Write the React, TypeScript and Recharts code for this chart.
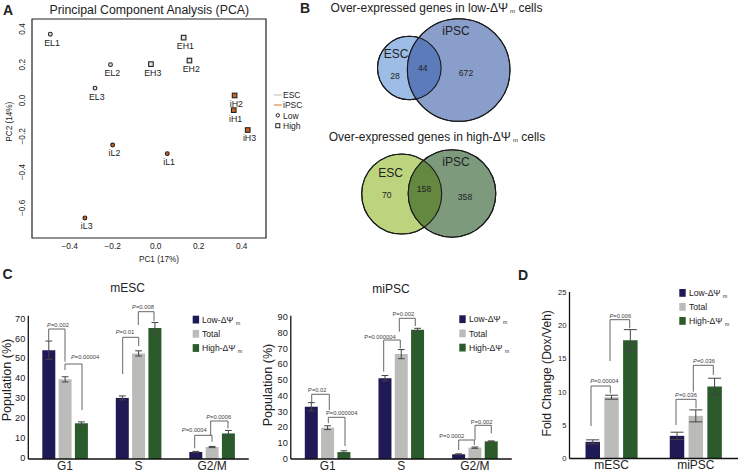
import { Bar, BarChart, ErrorBar, ReferenceArea, Scatter, ScatterChart, XAxis, YAxis } from 'recharts';

const FONT = '"Liberation Sans", Arial, sans-serif';
const INK = '#222';
const LOW = '#1f1a55';
const TOTAL = '#bbbbb9';
const HIGH = '#2b5b2b';

// panel A
const escLow = [
  { name: 'EL1', pc1: -0.49, pc2: 0.37 },
  { name: 'EL2', pc1: -0.21, pc2: 0.2 },
  { name: 'EL3', pc1: -0.282, pc2: 0.069 },
];
const escHigh = [
  { name: 'EH1', pc1: 0.13, pc2: 0.351 },
  { name: 'EH2', pc1: 0.157, pc2: 0.223 },
  { name: 'EH3', pc1: -0.022, pc2: 0.203 },
];
const ipscLow = [
  { name: 'iL1', pc1: 0.054, pc2: -0.297 },
  { name: 'iL2', pc1: -0.2, pc2: -0.249 },
  { name: 'iL3', pc1: -0.329, pc2: -0.656 },
];
const ipscHigh = [
  { name: 'iH1', pc1: 0.363, pc2: -0.054 },
  { name: 'iH2', pc1: 0.367, pc2: 0.028 },
  { name: 'iH3', pc1: 0.428, pc2: -0.165 },
];
const pc1Ticks = [-0.4, -0.2, 0, 0.2, 0.4];
const pc2Ticks = [-0.6, -0.4, -0.2, 0, 0.2, 0.4];

// panel B
const lowVennCounts = [28, 44, 672];
const highVennCounts = [70, 158, 358];

// panel C
const cycleCategories = ['G1', 'S', 'G2/M'];
const mescLow = [54.5, 30.6, 3.5];
const mescTotal = [39.9, 52.9, 6];
const mescHigh = [17.9, 65.7, 12.8];
const mescLowErr = [4.6, 1, 0.3];
const mescTotalErr = [1.3, 1.3, 0.3];
const mescHighErr = [0.7, 2.7, 1.5];
const mescTicks = [0, 10, 20, 30, 40, 50, 60, 70];

const mipscLow = [33.2, 51.3, 3];
const mipscTotal = [19.9, 66.6, 7.2];
const mipscHigh = [4.4, 82, 11.2];
const mipscLowErr = [2.6, 1.7, 0.3];
const mipscTotalErr = [1.2, 2.9, 0.4];
const mipscHighErr = [0.8, 1, 0.3];
const mipscTicks = [0, 10, 20, 30, 40, 50, 60, 70, 80, 90];

// panel D
const foldCategories = ['mESC', 'miPSC'];
const foldLow = [2.5, 3.4];
const foldTotal = [9.2, 6.4];
const foldHigh = [17.75, 10.8];
const foldLowErr = [0.3, 0.55];
const foldTotalErr = [0.3, 0.9];
const foldHighErr = [1.6, 1.25];
const foldTicks = [0, 5, 10, 15, 20, 25];

const buildRows = (cats: string[], low: number[], total: number[], high: number[], lowErr: number[], totalErr: number[], highErr: number[]) =>
  cats.map((cat, i) => ({
    cat,
    low: low[i],
    total: total[i],
    high: high[i],
    lowErr: lowErr[i],
    totalErr: totalErr[i],
    highErr: highErr[i],
  }));

// p value brackets: x1, x2, top, left drop, right drop, label x, label y
const brackets = [
  { p: '=0.002', it: true, x1: 48.7, x2: 65, top: 329, d1: 340.7, d2: 361.7, lx: 58, ly: 325 },
  { p: '=0.00004', it: true, x1: 65, x2: 82, top: 364, d1: 370, d2: 410, lx: 85, ly: 357.3 },
  { p: '=0.01', it: true, x1: 122.7, x2: 138.7, top: 337.3, d1: 374, d2: 346, lx: 125, ly: 331.7 },
  { p: '=0.008', it: true, x1: 138.3, x2: 154, top: 311.7, d1: 325, d2: 321, lx: 143, ly: 306.7 },
  { p: '=0.0004', it: true, x1: 194.7, x2: 212, top: 435.3, d1: 448.3, d2: 441.7, lx: 194.3, ly: 429.7 },
  { p: '=0.0006', it: true, x1: 210.7, x2: 228, top: 421, d1: 435.3, d2: 428.3, lx: 218.7, ly: 416.7 },
  { p: '=0.02', it: false, x1: 311.7, x2: 329.3, top: 394.3, d1: 403.3, d2: 410, lx: 317.3, ly: 389.7 },
  { p: '=0.000004', it: false, x1: 328.3, x2: 345, top: 417.3, d1: 423.3, d2: 446, lx: 341.7, ly: 412.7 },
  { p: '=0.000004', it: false, x1: 383.7, x2: 400.3, top: 340, d1: 371.7, d2: 348.3, lx: 380, ly: 336.7 },
  { p: '=0.002', it: false, x1: 399.3, x2: 415.3, top: 318.3, d1: 331.7, d2: 326, lx: 403.3, ly: 314.3 },
  { p: '=0.0002', it: false, x1: 458.7, x2: 474.3, top: 440, d1: 450, d2: 445, lx: 451.7, ly: 435.7 },
  { p: '=0.002', it: false, x1: 475, x2: 491.3, top: 425.3, d1: 440, d2: 433.3, lx: 481.7, ly: 421.7 },
  { p: '=0.00004', it: true, x1: 591, x2: 610.3, top: 386, d1: 426, d2: 393.3, lx: 604.3, ly: 381 },
  { p: '=0.006', it: true, x1: 610, x2: 629.7, top: 319.7, d1: 361, d2: 328.3, lx: 620.3, ly: 316 },
  { p: '=0.036', it: true, x1: 676, x2: 696, top: 399.3, d1: 425, d2: 408.3, lx: 686, ly: 395 },
  { p: '=0.036', it: true, x1: 693.3, x2: 713.3, top: 365.3, d1: 391.7, d2: 375, lx: 704, ly: 360.7 },
];

const minus = (v: number) => (v < 0 ? `\u2212${Math.abs(v).toFixed(1)}` : v.toFixed(1));

function RotatedTick({ x, y, payload }: any) {
  return (
    <text x={x} y={y} transform={`rotate(-90 ${x} ${y})`} textAnchor="middle" fontSize={8.3} fontFamily={FONT} fill={INK}>
      {minus(payload.value)}
    </text>
  );
}

function PointShape({ cx, cy, square, fill, payload }: any) {
  return (
    <g>
      {square ? (
        <rect x={cx - 2.3} y={cy - 2.3} width={4.6} height={4.6} fill={fill} stroke="#222" strokeWidth={1.1} />
      ) : (
        <circle cx={cx} cy={cy} r={1.9} fill={fill} stroke="#222" strokeWidth={1.1} />
      )}
      <text x={cx + 1.8} y={cy + 8.4} fontSize={8.8} fontFamily={FONT} fill={INK} textAnchor="middle" dominantBaseline="central">
        {payload.name}
      </text>
    </g>
  );
}

function PcaPanel() {
  const series = [
    { key: 'el', data: escLow, square: false, fill: '#e4e4e4' },
    { key: 'eh', data: escHigh, square: true, fill: '#e4e4e4' },
    { key: 'il', data: ipscLow, square: false, fill: '#c8641e' },
    { key: 'ih', data: ipscHigh, square: true, fill: '#c8641e' },
  ];
  return (
    <div style={{ position: 'absolute', left: 0, top: 0 }}>
      <ScatterChart width={290} height={265} margin={{ top: 19, right: 24, bottom: 0, left: 0 }}>
        <XAxis
          type="number"
          dataKey="pc1"
          domain={[-0.575, 0.513]}
          ticks={pc1Ticks}
          tickFormatter={minus}
          height={27}
          tickLine={false}
          tickSize={0}
          tickMargin={5}
          axisLine={false}
          tick={{ fontSize: 8.3, fontFamily: FONT, fill: INK }}
        />
        <YAxis
          type="number"
          dataKey="pc2"
          domain={[-0.768, 0.455]}
          ticks={pc2Ticks}
          width={32}
          tickLine={false}
          tickSize={0}
          tickMargin={7}
          axisLine={false}
          tick={<RotatedTick />}
        />
        <ReferenceArea x1={-0.575} x2={0.513} y1={-0.768} y2={0.455} fill="none" stroke="#222" strokeWidth={1.2} />
        {series.map((s) => (
          <Scatter
            key={s.key}
            data={s.data}
            isAnimationActive={false}
            shape={(p: any) => <PointShape {...p} square={s.square} fill={s.fill} />}
          />
        ))}
      </ScatterChart>
    </div>
  );
}

function VennShape({ cx, cy, payload }: any) {
  const { r, fill, clip, stroke } = payload;
  return (
    <g>
      {clip ? (
        <clipPath id={clip.id}>
          <circle cx={clip.x} cy={clip.y} r={clip.r} />
        </clipPath>
      ) : null}
      <circle
        cx={cx}
        cy={cy}
        r={r}
        fill={fill}
        stroke={stroke ? '#1a1a1a' : 'none'}
        strokeWidth={1.1}
        clipPath={clip ? `url(#${clip.id})` : undefined}
      />
    </g>
  );
}

const lowVennCircles = [
  { x: 119.3, y: 68, r: 31.8, fill: '#9dbde6', stroke: true },
  { x: 168.7, y: 70, r: 51.3, fill: '#8a9ecb', stroke: true },
  { x: 168.7, y: 70, r: 51.3, fill: '#5b7bbb', stroke: false, clip: { id: 'lens-low', x: 119.3, y: 68, r: 31.8 } },
  { x: 119.3, y: 68, r: 31.8, fill: 'none', stroke: true },
  { x: 168.7, y: 70, r: 51.3, fill: 'none', stroke: true },
];
const highVennCircles = [
  { x: 111.7, y: 194, r: 40, fill: '#bdd47e', stroke: true },
  { x: 162, y: 193.5, r: 43.8, fill: '#7d9a7c', stroke: true },
  { x: 162, y: 193.5, r: 43.8, fill: '#64883f', stroke: false, clip: { id: 'lens-high', x: 111.7, y: 194, r: 40 } },
  { x: 111.7, y: 194, r: 40, fill: 'none', stroke: true },
  { x: 162, y: 193.5, r: 43.8, fill: 'none', stroke: true },
];

function VennPanel() {
  return (
    <div style={{ position: 'absolute', left: 290, top: 0 }}>
      <ScatterChart width={300} height={260} margin={{ top: 0, right: 0, bottom: 0, left: 0 }}>
        <XAxis type="number" dataKey="x" domain={[0, 300]} hide />
        <YAxis type="number" dataKey="y" domain={[0, 260]} reversed hide />
        <Scatter data={lowVennCircles} isAnimationActive={false} shape={(p: any) => <VennShape {...p} />} />
        <Scatter data={highVennCircles} isAnimationActive={false} shape={(p: any) => <VennShape {...p} />} />
      </ScatterChart>
    </div>
  );
}

function BarPanel({ left, top, width, height, axisW, axisH, marginTop, rows, ticks, domain, barSize, barGap, tickFont, catFont, tickDy, capWidth }: any) {
  const err = { width: capWidth, stroke: '#444', strokeWidth: 1 };
  return (
    <div style={{ position: 'absolute', left, top }}>
      <BarChart
        width={width}
        height={height}
        data={rows}
        barSize={barSize}
        barGap={barGap}
        margin={{ top: marginTop, right: 0, bottom: 0, left: 0 }}
      >
        <XAxis
          dataKey="cat"
          height={axisH}
          tickLine={false}
          tickSize={0}
          tickMargin={2}
          interval={0}
          axisLine={{ stroke: '#111', strokeWidth: 1.3 }}
          tick={{ fontSize: catFont, fontFamily: FONT, fill: INK }}
        />
        <YAxis
          type="number"
          domain={domain}
          ticks={ticks}
          width={axisW}
          interval={0}
          tickLine={false}
          tickSize={0}
          tickMargin={3}
          axisLine={{ stroke: '#111', strokeWidth: 1.3 }}
          tick={{ fontSize: tickFont, fontFamily: FONT, fill: INK, dy: tickDy }}
        />
        <Bar dataKey="low" fill={LOW} isAnimationActive={false}>
          <ErrorBar dataKey="lowErr" {...err} isAnimationActive={false} />
        </Bar>
        <Bar dataKey="total" fill={TOTAL} isAnimationActive={false}>
          <ErrorBar dataKey="totalErr" {...err} isAnimationActive={false} />
        </Bar>
        <Bar dataKey="high" fill={HIGH} isAnimationActive={false}>
          <ErrorBar dataKey="highErr" {...err} isAnimationActive={false} />
        </Bar>
      </BarChart>
    </div>
  );
}

function T({ x, y, size = 12, anchor = 'middle', bold = false, rotate = false, fill = INK, children }: any) {
  return (
    <text
      x={x}
      y={y}
      fontSize={size}
      fontFamily={FONT}
      fontWeight={bold ? 700 : 400}
      textAnchor={anchor}
      dominantBaseline="central"
      fill={fill}
      transform={rotate ? `rotate(-90 ${x} ${y})` : undefined}
    >
      {children}
    </text>
  );
}

function BarLegend({ x, y, step = 14.2, textX, mGap = 2.5 }: any) {
  const rows = [
    { c: LOW, t: 'Low-\u0394\u03a8', m: true },
    { c: TOTAL, t: 'Total', m: false },
    { c: HIGH, t: 'High-\u0394\u03a8', m: true },
  ];
  return (
    <g>
      {rows.map((r, i) => (
        <g key={r.t}>
          <rect x={x} y={y + i * step - 4} width={6.4} height={7.8} fill={r.c} />
          <text x={textX} y={y + i * step} fontSize={8.6} fontFamily={FONT} fill={INK} dominantBaseline="central">
            {r.t}
            {r.m ? (
              <tspan dx={mGap} dy={3} fontSize={5}>
                m
              </tspan>
            ) : null}
          </text>
        </g>
      ))}
    </g>
  );
}

function Overlay() {
  return (
    <svg width={738} height={474} style={{ position: 'absolute', left: 0, top: 0, pointerEvents: 'none' }}>
      {/* panel letters */}
      <T x={8} y={10} size={14} bold>A</T>
      <T x={305} y={8} size={14} bold>B</T>
      <T x={7.5} y={274} size={14} bold>C</T>
      <T x={523} y={275} size={14} bold>D</T>

      {/* panel A */}
      <T x={149.3} y={9.5} size={12.3}>Principal Component Analysis (PCA)</T>
      <T x={159} y={259.5} size={8.2}>PC1 (17%)</T>
      <T x={10} y={121.7} size={8.2} rotate>PC2 (14%)</T>
      <line x1={274} x2={281.7} y1={95} y2={95} stroke="#c8c8c8" strokeWidth={1.2} />
      <line x1={274} x2={281.7} y1={105} y2={105} stroke="#d98a4a" strokeWidth={1.2} />
      <circle cx={277.8} cy={115.3} r={1.7} fill="#fff" stroke="#222" strokeWidth={1} />
      <rect x={275.8} y={123.7} width={4} height={4} fill="#fff" stroke="#222" strokeWidth={1} />
      <T x={283} y={95} size={8.5} anchor="start">ESC</T>
      <T x={283} y={105} size={8.5} anchor="start">iPSC</T>
      <T x={283} y={115.5} size={8.5} anchor="start">Low</T>
      <T x={283} y={125.7} size={8.5} anchor="start">High</T>

      {/* panel B */}
      <T x={436.5} y={8} size={12}>Over-expressed genes in low-{'\u0394\u03a8'}<tspan dx={2} dy={3} fontSize={6}>m</tspan><tspan dy={-3}> cells</tspan></T>
      <T x={437} y={136.7} size={12}>Over-expressed genes in high-{'\u0394\u03a8'}<tspan dx={2} dy={3} fontSize={6}>m</tspan><tspan dy={-3}> cells</tspan></T>
      <T x={396} y={54} size={12}>ESC</T>
      <T x={456} y={30.7} size={12}>iPSC</T>
      <T x={395} y={76} size={8.6}>{lowVennCounts[0]}</T>
      <T x={422.7} y={68.3} size={8.6}>{lowVennCounts[1]}</T>
      <T x={466} y={73} size={8.6}>{lowVennCounts[2]}</T>
      <T x={390.7} y={173.3} size={12}>ESC</T>
      <T x={456} y={161.7} size={12}>iPSC</T>
      <T x={386.7} y={195} size={8.6}>{highVennCounts[0]}</T>
      <T x={424} y={189.3} size={8.6}>{highVennCounts[1]}</T>
      <T x={465} y={196.7} size={8.6}>{highVennCounts[2]}</T>

      {/* panels C and D */}
      <T x={127.7} y={288.3} size={12}>mESC</T>
      <T x={391} y={289} size={12}>miPSC</T>
      <T x={7} y={380} size={12.6} rotate>Population (%)</T>
      <T x={267.5} y={385} size={12.6} rotate>Population (%)</T>
      <T x={546.7} y={373.3} size={12.1} rotate>Fold Change (Dox/Veh)</T>
      <BarLegend x={192.7} y={319.7} textX={202} />
      <BarLegend x={459.3} y={319.3} textX={469} />
      <BarLegend x={679.3} y={293} step={14} textX={689} />

      {brackets.map((b) => (
        <g key={`${b.lx}-${b.ly}`}>
          <path
            d={`M${b.x1} ${b.d1}V${b.top}H${b.x2}V${b.d2}`}
            fill="none"
            stroke="#555"
            strokeWidth={0.9}
          />
          <text x={b.lx} y={b.ly} fontSize={5.8} fontFamily={FONT} fill="#444" textAnchor="middle" dominantBaseline="central">
            <tspan fontStyle={b.it ? 'italic' : 'normal'}>P</tspan>
            {b.p}
          </text>
        </g>
      ))}
    </svg>
  );
}

export default function App() {
  return (
    <div style={{ position: 'absolute', left: 0, top: 0, width: 738, height: 474, background: '#fff', overflow: 'hidden' }}>
      <PcaPanel />
      <VennPanel />
      <BarPanel
        left={0}
        top={300}
        width={248.8}
        height={174}
        axisW={28.3}
        axisH={15}
        marginTop={15.7}
        rows={buildRows(cycleCategories, mescLow, mescTotal, mescHigh, mescLowErr, mescTotalErr, mescHighErr)}
        ticks={mescTicks}
        domain={[0, 71.8]}
        barSize={13}
        barGap={3.3}
        tickFont={9.2}
        catFont={12}
        tickDy={-1}
        capWidth={3.4}
      />
      <BarPanel
        left={262}
        top={300}
        width={249.8}
        height={174}
        axisW={28.8}
        axisH={15}
        marginTop={15.7}
        rows={buildRows(cycleCategories, mipscLow, mipscTotal, mipscHigh, mipscLowErr, mipscTotalErr, mipscHighErr)}
        ticks={mipscTicks}
        domain={[0, 91]}
        barSize={13}
        barGap={3.3}
        tickFont={9.2}
        catFont={12}
        tickDy={-0.5}
        capWidth={3.4}
      />
      <BarPanel
        left={540}
        top={280}
        width={198}
        height={194}
        axisW={29.5}
        axisH={15.5}
        marginTop={12}
        rows={buildRows(foldCategories, foldLow, foldTotal, foldHigh, foldLowErr, foldTotalErr, foldHighErr)}
        ticks={foldTicks}
        domain={[0, 25]}
        barSize={14.5}
        barGap={4.3}
        tickFont={7.6}
        catFont={12}
        tickDy={0}
        capWidth={6.5}
      />
      <Overlay />
    </div>
  );
}
